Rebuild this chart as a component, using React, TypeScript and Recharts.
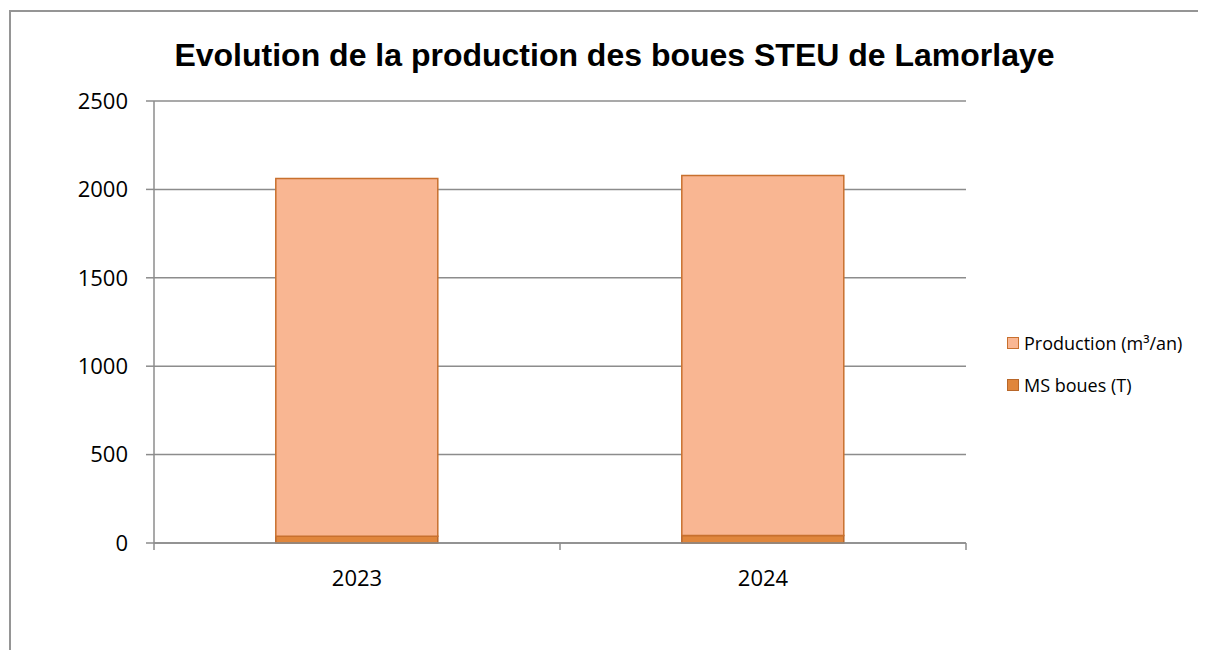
import { BarChart, Bar, XAxis, YAxis, CartesianGrid } from 'recharts';

const years = ['2023', '2024'];
const msBoues = [38, 42];
const production = [2024, 2037];
const yTicks = [0, 500, 1000, 1500, 2000, 2500];

const data = years.map((year, i) => ({
  year,
  ms: msBoues[i],
  prod: production[i],
}));

const GRID = '#8c8c8c';
const FONT = '"Open Sans", sans-serif';

const legendItems = [
  { label: 'Production (m³/an)', fill: '#f9b692', stroke: '#c8702e' },
  { label: 'MS boues (T)', fill: '#e0863c', stroke: '#b8672a' },
];

// category label + tick marks on the band edges, like Excel does
function YearTick(props: any) {
  const { x, y, payload, index, visibleTicksCount } = props;
  const half = payload.offset || 0;
  const last = index === visibleTicksCount - 1;
  return (
    <g>
      <line x1={x - half} x2={x - half} y1={y} y2={y + 7} stroke={GRID} strokeWidth={1.5} />
      {last && <line x1={x + half} x2={x + half} y1={y} y2={y + 7} stroke={GRID} strokeWidth={1.5} />}
      <text x={x} y={y + 27} dy="0.71em" textAnchor="middle" fill="#000" fontSize={22} fontFamily={FONT}>
        {payload.value}
      </text>
    </g>
  );
}

function LegendBox() {
  return (
    <div
      style={{
        position: 'absolute',
        left: 996,
        top: 310,
        width: 200,
        fontFamily: FONT,
        fontSize: 18,
        color: '#000',
      }}
    >
      {legendItems.map((it) => (
        <div key={it.label} style={{ display: 'flex', alignItems: 'center', height: 42 }}>
          <span
            style={{
              width: 10,
              height: 10,
              background: it.fill,
              border: `1.5px solid ${it.stroke}`,
              marginRight: 5,
            }}
          />
          <span>{it.label}</span>
        </div>
      ))}
    </div>
  );
}

export default function App() {
  return (
    <div
      style={{
        position: 'relative',
        marginLeft: 1,
        marginTop: 2,
        width: 1210,
        height: 650,
        borderLeft: '2px solid #959595',
        borderTop: '2px solid #959595',
        background: '#fff',
      }}
    >
      <div
        style={{
          position: 'absolute',
          left: 6,
          top: 27,
          width: 1195,
          textAlign: 'center',
          fontFamily: '"Liberation Sans", Arial, sans-serif',
          fontWeight: 'bold',
          fontSize: 32,
          lineHeight: '32px',
          color: '#000',
        }}
      >
        Evolution de la production des boues STEU de Lamorlaye
      </div>
      <BarChart
        width={1195}
        height={620}
        data={data}
        margin={{ top: 89, right: 240, left: 0, bottom: 49 }}
        barCategoryGap="30%"
      >
        <CartesianGrid vertical={false} stroke={GRID} strokeWidth={1.5} />
        <XAxis
          dataKey="year"
          tickLine={false}
          tickSize={0}
          tickMargin={0}
          axisLine={{ stroke: GRID, strokeWidth: 1.5 }}
          height={40}
          interval={0}
          tick={<YearTick />}
        />
        <YAxis
          width={143}
          domain={[0, 2500]}
          ticks={yTicks}
          tickSize={8}
          tickMargin={18}
          tickLine={{ stroke: GRID, strokeWidth: 1.5 }}
          axisLine={{ stroke: GRID, strokeWidth: 1.5 }}
          tick={{ fill: '#000', fontSize: 22, fontFamily: FONT }}
        />
        <Bar
          dataKey="ms"
          stackId="a"
          fill="#e0863c"
          stroke="#b8672a"
          strokeWidth={1.5}
          isAnimationActive={false}
        />
        <Bar
          dataKey="prod"
          stackId="a"
          fill="#f9b692"
          stroke="#c8702e"
          strokeWidth={1.5}
          isAnimationActive={false}
        />
      </BarChart>
      <LegendBox />
    </div>
  );
}
